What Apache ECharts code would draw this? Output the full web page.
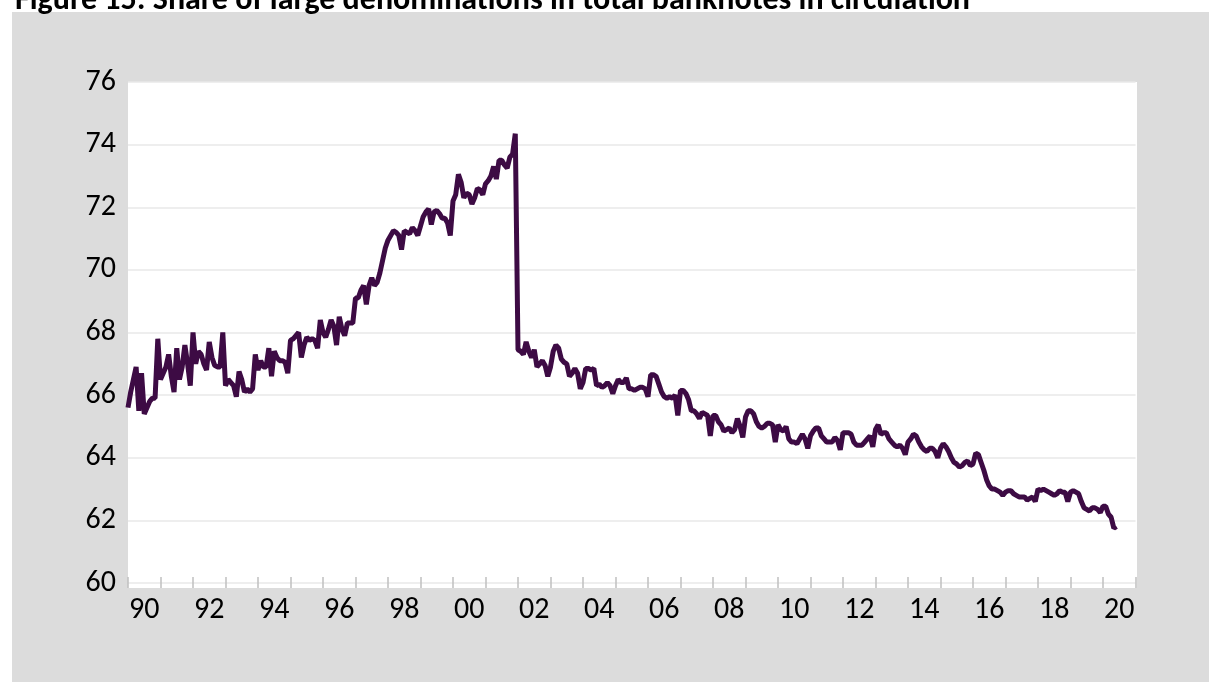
<!DOCTYPE html>
<html>
<head>
<meta charset="utf-8">
<script src="https://cdn.jsdelivr.net/npm/echarts@6/dist/echarts.min.js"></script>
<style>
    html, body {margin: 0; padding: 0; background: #ffffff;}
    #chart {width: 1209px; height: 682px;}
</style>
</head>
<body>
<div id="chart"></div>
<script>
// monthly share (%) of large denominations, Jan 1990 - Jun 2020
var y1990 = [65.6, 66.1, 66.5, 66.9, 65.5, 66.7, 65.4, 65.6, 65.8, 65.9, 65.9, 67.8];
var y1991 = [66.5, 66.7, 66.9, 67.3, 66.6, 66.1, 67.5, 66.5, 66.9, 67.6, 67.0, 66.3];
var y1992 = [68.0, 67.0, 67.4, 67.3, 67.0, 66.8, 67.7, 67.2, 66.95, 66.9, 66.9, 68.0];
var y1993 = [66.3, 66.5, 66.4, 66.3, 65.95, 66.75, 66.5, 66.1, 66.2, 66.1, 66.2, 67.3];
var y1994 = [66.8, 67.1, 66.9, 66.9, 67.5, 66.6, 67.4, 67.2, 67.1, 67.1, 67.05, 66.7];
var y1995 = [67.75, 67.8, 67.9, 68.0, 67.2, 67.6, 67.85, 67.75, 67.8, 67.75, 67.5, 68.4];
var y1996 = [68.0, 67.85, 68.1, 68.4, 68.2, 67.6, 68.5, 68.1, 67.9, 68.3, 68.3, 68.3];
var y1997 = [69.1, 69.1, 69.35, 69.5, 68.9, 69.5, 69.75, 69.5, 69.6, 69.9, 70.3, 70.7];
var y1998 = [70.95, 71.1, 71.25, 71.2, 71.1, 70.65, 71.25, 71.2, 71.15, 71.35, 71.25, 71.1];
var y1999 = [71.4, 71.7, 71.85, 71.95, 71.45, 71.85, 71.9, 71.8, 71.65, 71.65, 71.5, 71.1];
var y2000 = [72.2, 72.4, 73.05, 72.8, 72.3, 72.45, 72.4, 72.1, 72.3, 72.6, 72.55, 72.4];
var y2001 = [72.75, 72.85, 73.0, 73.3, 72.9, 73.5, 73.5, 73.35, 73.25, 73.6, 73.7, 74.35];
var y2002 = [67.45, 67.4, 67.3, 67.7, 67.4, 67.2, 67.45, 66.9, 67.0, 67.1, 66.95, 66.6];
var y2003 = [66.9, 67.4, 67.6, 67.5, 67.15, 67.05, 67.0, 66.6, 66.7, 66.85, 66.7, 66.2];
var y2004 = [66.4, 66.85, 66.85, 66.8, 66.85, 66.3, 66.35, 66.25, 66.3, 66.4, 66.3, 66.05];
var y2005 = [66.3, 66.5, 66.4, 66.4, 66.55, 66.2, 66.2, 66.15, 66.2, 66.25, 66.25, 66.2];
var y2006 = [65.95, 66.65, 66.65, 66.6, 66.35, 66.1, 65.95, 65.9, 65.95, 65.9, 66.0, 65.35];
var y2007 = [66.15, 66.15, 66.05, 65.85, 65.5, 65.5, 65.4, 65.25, 65.45, 65.4, 65.35, 64.7];
var y2008 = [65.35, 65.35, 65.15, 65.05, 64.85, 64.9, 64.95, 64.8, 64.9, 65.25, 65.0, 64.65];
var y2009 = [65.3, 65.5, 65.5, 65.4, 65.15, 65.0, 64.95, 65.0, 65.1, 65.1, 65.05, 64.5];
var y2010 = [65.05, 64.9, 64.85, 65.0, 64.6, 64.5, 64.5, 64.45, 64.6, 64.75, 64.6, 64.3];
var y2011 = [64.7, 64.85, 64.95, 64.95, 64.7, 64.6, 64.5, 64.5, 64.5, 64.65, 64.55, 64.25];
var y2012 = [64.8, 64.8, 64.8, 64.75, 64.5, 64.4, 64.4, 64.4, 64.5, 64.6, 64.7, 64.35];
var y2013 = [64.9, 65.05, 64.75, 64.8, 64.8, 64.6, 64.5, 64.4, 64.35, 64.4, 64.3, 64.1];
var y2014 = [64.5, 64.6, 64.75, 64.7, 64.5, 64.35, 64.25, 64.2, 64.3, 64.3, 64.2, 64.0];
var y2015 = [64.3, 64.45, 64.35, 64.2, 64.0, 63.85, 63.8, 63.7, 63.75, 63.85, 63.9, 63.75];
var y2016 = [63.8, 64.15, 64.1, 63.85, 63.6, 63.3, 63.1, 63.0, 63.0, 62.95, 62.9, 62.8];
var y2017 = [62.9, 62.95, 62.95, 62.85, 62.8, 62.75, 62.75, 62.75, 62.65, 62.7, 62.75, 62.6];
var y2018 = [63.0, 62.95, 63.0, 62.95, 62.9, 62.85, 62.8, 62.85, 62.95, 62.9, 62.9, 62.6];
var y2019 = [62.9, 62.95, 62.9, 62.85, 62.6, 62.4, 62.35, 62.3, 62.4, 62.4, 62.35, 62.25];
var y2020 = [62.45, 62.45, 62.2, 62.1, 61.75, 61.8];

var startYear = 1990;
var endYear = 2020;
var yearLabels = ['90', '91', '92', '93', '94', '95', '96', '97', '98', '99', '00', '01', '02', '03', '04', '05',
    '06', '07', '08', '09', '10', '11', '12', '13', '14', '15', '16', '17', '18', '19', '20'];

var yearBlocks = [y1990, y1991, y1992, y1993, y1994, y1995, y1996, y1997, y1998, y1999, y2000, y2001, y2002,
    y2003, y2004, y2005, y2006, y2007, y2008, y2009, y2010, y2011, y2012, y2013, y2014, y2015, y2016, y2017,
    y2018, y2019, y2020];

// build [time, value] pairs, one per month
var points = [];
yearBlocks.forEach(function (block, i) {
    block.forEach(function (v, m) {
        points.push([startYear + i + m / 12, v]);
    });
});

var font = 'Carlito, Lato, "Open Sans", sans-serif';

var chart = echarts.init(document.getElementById('chart'), null, {renderer: 'canvas'});
var option = {
    backgroundColor: '#ffffff',
    animation: false,
    title: {
        text: 'Figure 15: Share of large denominations in total banknotes in circulation',
        left: 10,
        top: -20,
        textStyle: {
            fontFamily: font,
            fontWeight: 'bold',
            fontSize: 32,
            color: '#000000'
        }
    },
    graphic: [
        {
            type: 'rect',
            z: -10,
            silent: true,
            shape: {x: 12, y: 12, width: 1197, height: 670},
            style: {fill: '#dcdcdc'}
        },
        {
            type: 'rect',
            z: -9,
            silent: true,
            shape: {x: 128, y: 82, width: 1009, height: 506},
            style: {fill: '#ffffff'}
        }
    ],
    grid: {
        left: 128,
        right: 73.5,
        top: 82,
        bottom: 99,
        containLabel: false
    },
    xAxis: [
        {
            type: 'category',
            data: yearLabels,
            boundaryGap: true,
            axisLine: {show: false},
            axisTick: {
                show: true,
                interval: 0,
                length: 5,
                lineStyle: {color: '#c0c0c0', width: 1.5}
            },
            axisLabel: {
                interval: 1,
                margin: 12,
                fontFamily: font,
                fontSize: 30,
                color: '#000000'
            }
        },
        {
            type: 'value',
            position: 'bottom',
            min: startYear,
            max: endYear + 1,
            interval: 1,
            axisLine: {show: false},
            axisTick: {
                show: true,
                inside: true,
                length: 6,
                lineStyle: {color: '#c0c0c0', width: 1.5}
            },
            axisLabel: {show: false},
            splitLine: {show: false}
        }
    ],
    yAxis: {
        type: 'value',
        min: 60,
        max: 76,
        interval: 2,
        axisLine: {show: false},
        axisTick: {show: false},
        axisLabel: {
            margin: 12,
            fontFamily: font,
            fontSize: 30,
            color: '#000000'
        },
        splitLine: {
            show: true,
            lineStyle: {color: '#e8e8e8', width: 1.5}
        }
    },
    series: [
        {
            type: 'line',
            xAxisIndex: 1,
            data: points,
            showSymbol: false,
            smooth: false,
            lineStyle: {color: '#3d0b44', width: 5},
            itemStyle: {color: '#3d0b44'}
        }
    ]
};
chart.setOption(option);
</script>
</body>
</html>
